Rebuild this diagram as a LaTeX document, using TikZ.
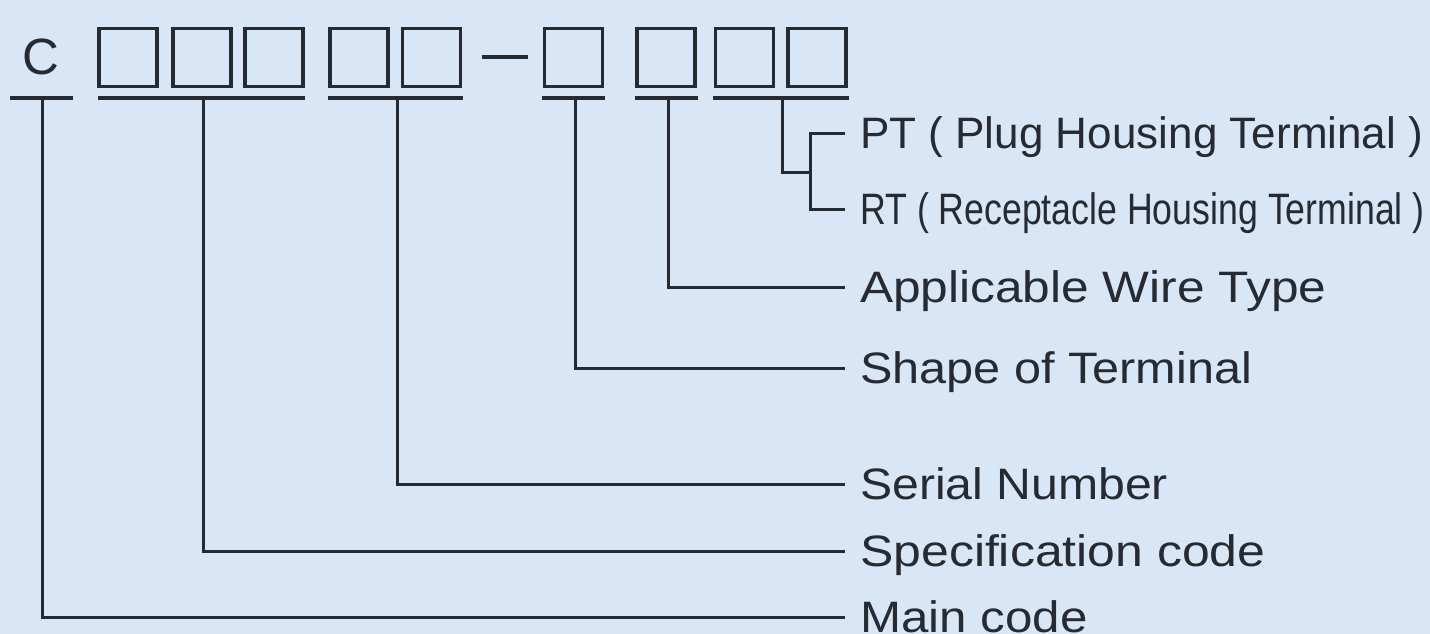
\documentclass[tikz,border=0pt]{standalone}
\usepackage{fontspec}
\setmainfont{Liberation Sans}
\usepackage{graphicx}
\definecolor{bg}{RGB}{217,230,245}
\definecolor{ink}{RGB}{38,42,50}
\begin{document}
\begin{tikzpicture}[x=1pt,y=-1pt,
  cbox/.style={draw=ink, line width=3.2pt, minimum width=58pt, minimum height=58pt, inner sep=0pt},
  uline/.style={draw=ink, line width=3.2pt},
  conn/.style={draw=ink, line width=3pt},
  lab/.style={anchor=west, inner xsep=15pt, inner ysep=0pt, text height=31.5pt, text depth=0pt,
              font=\fontsize{44}{50}\selectfont, text=ink}]
\fill[bg] (0,0) rectangle (1430,634);
\useasboundingbox (0,0) rectangle (1430,634);
% code row
\node[font=\fontsize{51}{51}\selectfont, text=ink, inner sep=0pt] (c) at (41,57) {C};
\node[cbox] (b1) at (128,57.5) {};
\node[cbox] (b2) at (202,57.5) {};
\node[cbox] (b3) at (274,57.5) {};
\node[cbox] (b4) at (359,57.5) {};
\node[cbox] (b5) at (431.5,57.5) {};
\draw[uline] (482,57) -- (528,57);
\node[cbox] (b6) at (573.5,57.5) {};
\node[cbox] (b7) at (666,57.5) {};
\node[cbox] (b8) at (744.5,57.5) {};
\node[cbox] (b9) at (817,57.5) {};
% underlines
\draw[uline] (10,98) -- (73,98);
\draw[uline] (98,98) -- (305,98);
\draw[uline] (328,98) -- (463,98);
\draw[uline] (542,98) -- (605,98);
\draw[uline] (635,98) -- (698,98);
\draw[uline] (713,98) -- (849,98);
\coordinate (u1) at (42,98);
\coordinate (u2) at (203,98);
\coordinate (u3) at (397,98);
\coordinate (u4) at (575,98);
\coordinate (u5) at (668,98);
\coordinate (u6) at (782,98);
\coordinate (br) at (810,172);
% labels
\node[lab] (pt) at (845,133) {\scalebox{1.001}[1]{PT ( Plug Housing Terminal )}};
\node[lab] (rt) at (845,209) {\scalebox{0.811}[1]{RT ( Receptacle Housing Terminal )}};
\node[lab] (wire) at (845,287) {\scalebox{1.128}[1]{Applicable Wire Type}};
\node[lab] (shape) at (845,368) {\scalebox{1.105}[1]{Shape of Terminal}};
\node[lab] (serial) at (845,484) {\scalebox{1.095}[1]{Serial Number}};
\node[lab] (spec) at (845,551) {\scalebox{1.135}[1]{Specification code}};
\node[lab] (main) at (845,617) {\scalebox{1.12}[1]{Main code}};
% connectors
\draw[conn] (u1) |- (main.west);
\draw[conn] (u2) |- (spec.west);
\draw[conn] (u3) |- (serial.west);
\draw[conn] (u4) |- (shape.west);
\draw[conn] (u5) |- (wire.west);
\draw[conn] (u6) |- (br);
\draw[conn] (pt.west) -| (br) |- (rt.west);
\end{tikzpicture}
\end{document}
